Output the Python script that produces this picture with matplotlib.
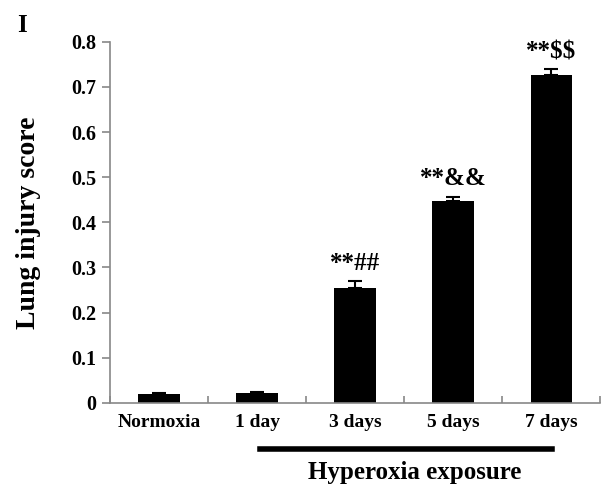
import matplotlib
matplotlib.use('Agg')
import matplotlib.pyplot as plt
import numpy as np

groups = ['Normoxia', '1 day', '3 days', '5 days', '7 days']
scores = [0.020, 0.023, 0.254, 0.447, 0.727]
errors = [0.002, 0.002, 0.015, 0.010, 0.012]
marks = ['', '', '**##', '**&&', '**$$']
yticks = [0, 0.1, 0.2, 0.3, 0.4, 0.5, 0.6, 0.7, 0.8]
ytick_labels = ['0', '0.1', '0.2', '0.3', '0.4', '0.5', '0.6', '0.7', '0.8']

plt.rcParams['font.family'] = ['Liberation Serif', 'DejaVu Serif']
plt.rcParams['font.weight'] = 'bold'
plt.rcParams['text.parse_math'] = False

fig = plt.figure(figsize=(6.08, 4.86), dpi=100)
ax = fig.add_axes([0.181, 0.171, 0.806, 0.743])

x = np.arange(len(groups))
ax.bar(x, scores, width=0.42, color='black', zorder=2)
ax.errorbar(x, scores, yerr=[np.zeros(len(errors)), errors], fmt='none',
            ecolor='black', elinewidth=1.5, capsize=5, capthick=1.5, zorder=3)
for xi, s, e, m in zip(x, scores, errors, marks):
    if m:
        ax.text(xi, s + e + 0.014, m, ha='center', va='bottom',
                fontsize=18, fontweight='bold', parse_math=False)

ax.set_xlim(-0.5, len(groups) - 0.5)
ax.set_ylim(0, 0.8)
ax.set_yticks(yticks)
ax.set_yticklabels(ytick_labels, fontsize=14.5, fontweight='bold')
ax.set_xticks(x)
ax.set_xticklabels(groups, fontsize=14, fontweight='bold')
ax.tick_params(axis='x', length=0, pad=8)
ax.tick_params(axis='y', length=6, color='#888888', width=1.2, pad=4)
# category boundary ticks on the x axis
ax.set_xticks(np.arange(-0.5, len(groups)), minor=True)
ax.tick_params(axis='x', which='minor', length=5, color='#888888', width=1.2,
               direction='in')
for side in ['top', 'right']:
    ax.spines[side].set_visible(False)
for side in ['left', 'bottom']:
    ax.spines[side].set_color('#888888')
    ax.spines[side].set_linewidth(1.2)

ax.set_ylabel('Lung injury score', fontsize=20, fontweight='bold')
ax.yaxis.set_label_coords(-0.14, 0.5)

# bracket for hyperoxia groups
fig.add_artist(plt.Line2D([260 / 608, 552 / 608], [1 - 449 / 486, 1 - 449 / 486],
                          color='black', linewidth=4))
fig.text(415 / 608, 1 - 472 / 486, 'Hyperoxia exposure', ha='center', va='center',
         fontsize=18, fontweight='bold')
fig.text(17 / 608, 1 - 25 / 486, 'I', ha='left', va='center', fontsize=18)

fig.savefig('out.png', dpi=100)
